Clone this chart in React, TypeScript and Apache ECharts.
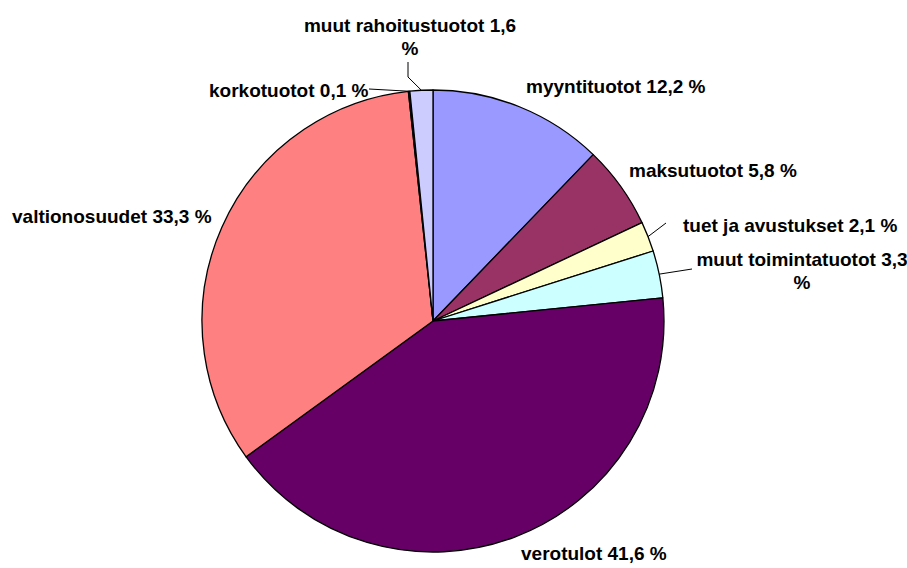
import React, { useEffect, useRef } from "react";
import * as echarts from "echarts";

const categories = [
  "myyntituotot",
  "maksutuotot",
  "tuet ja avustukset",
  "muut toimintatuotot",
  "verotulot",
  "valtionosuudet",
  "korkotuotot",
  "muut rahoitustuotot",
];
const values = [12.2, 5.8, 2.1, 3.3, 41.6, 33.3, 0.1, 1.6];
const colors = ["#9999FF", "#993366", "#FFFFCC", "#CCFFFF", "#660066", "#FF8080", "#0066CC", "#CCCCFF"];
// labels whose "%" wraps onto a second line
const wrapped = [3, 7];
const withLeader = [2, 3, 6, 7];

// label placement (layout only)
const labelPlace: Record<number, { x: number; y: number; align: string; line?: number[][] }> = {
  0: { x: 526, y: 86, align: "left" },
  1: { x: 629, y: 170, align: "left" },
  2: { x: 683, y: 225, align: "left", line: [[666, 223]] },
  3: { x: 802, y: 271, align: "center", line: [[692, 269]] },
  4: { x: 521, y: 553, align: "left" },
  5: { x: 12, y: 216, align: "left" },
  6: { x: 209, y: 90, align: "left", line: [[369, 89]] },
  7: { x: 410, y: 37, align: "center", line: [[408, 77], [408, 62]] },
};

export default function App() {
  const ref = useRef<HTMLDivElement>(null);
  useEffect(() => {
    document.body.style.margin = "0";
    const chart = echarts.init(ref.current!, undefined, { renderer: "svg" });
    chart.setOption({
      animation: false,
      backgroundColor: "#ffffff",
      series: [
        {
          type: "pie",
          center: [433, 321],
          radius: 231,
          startAngle: 90,
          clockwise: true,
          avoidLabelOverlap: false,
          itemStyle: { borderColor: "#000000", borderWidth: 1.3 },
          label: {
            show: true,
            position: "outside",
            color: "#000000",
            fontFamily: "'Liberation Sans', Arial, sans-serif",
            fontWeight: "bold",
            fontSize: 19,
            lineHeight: 23,
            formatter: (p: any) => {
              const v = values[p.dataIndex].toFixed(1).replace(".", ",");
              return `${p.name} ${v}${wrapped.includes(p.dataIndex) ? "\n" : " "}%`;
            },
          },
          labelLine: { show: false, lineStyle: { color: "#000000", width: 1 } },
          labelLayout: (params: any) => {
            const pl = labelPlace[params.dataIndex];
            const out: any = { x: pl.x, y: pl.y, align: pl.align, verticalAlign: "middle" };
            if (pl.line && params.labelLinePoints) {
              out.labelLinePoints = [params.labelLinePoints[0], ...pl.line];
            }
            return out;
          },
          data: categories.map((name, i) => ({
            name,
            value: values[i],
            itemStyle: { color: colors[i] },
            labelLine: { show: withLeader.includes(i), length: 10, length2: 10 },
          })),
        },
      ],
    });
    return () => chart.dispose();
  }, []);
  return <div ref={ref} style={{ width: 907, height: 568 }} />;
}
